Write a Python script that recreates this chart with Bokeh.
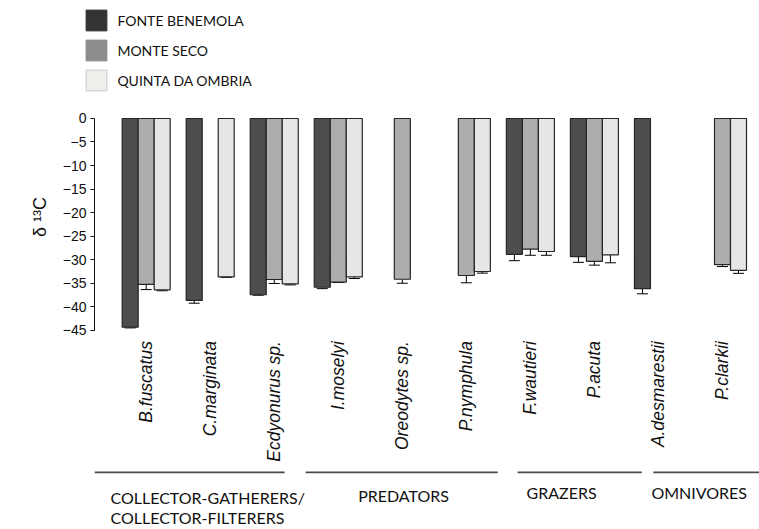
import math

from bokeh.core.properties import value
from bokeh.embed import file_html
from bokeh.layouts import column
from bokeh.models import (ColumnDataSource, FixedTicker, Legend, LegendItem,
                          LinearAxis, Range1d, TeeHead, Whisker)
from bokeh.plotting import figure
from bokeh.resources import INLINE
from bokeh.transform import dodge

# --- data -------------------------------------------------------------------
species = ["B.fuscatus", "C.marginata", "Ecdyonurus sp.", "I.moselyi", "Oreodytes sp.",
           "P.nymphula", "F.wautieri", "P.acuta", "A.desmarestii", "P.clarkii"]

sites = ["FONTE BENEMOLA", "MONTE SECO", "QUINTA DA OMBRIA"]

# mean d13C per species (None = taxon not sampled at that site)
fonte_mean = [-44.4, -38.7, -37.5, -35.9, None, None, -28.9, -29.4, -36.2, None]
fonte_err = [0.15, 0.6, 0.1, 0.3, None, None, 1.35, 1.2, 1.1, None]

monte_mean = [-35.3, None, -34.25, -34.8, -34.2, -33.4, -27.8, -30.4, None, -31.1]
monte_err = [1.1, None, 0.85, 0.1, 0.85, 1.55, 1.3, 0.8, None, 0.4]

quinta_mean = [-36.45, -33.7, -35.2, -33.7, None, -32.55, -28.3, -29.0, None, -32.3]
quinta_err = [0.2, 0.1, 0.2, 0.35, None, 0.35, 0.8, 1.7, None, 0.65]

y_ticks = [0, -5, -10, -15, -20, -25, -30, -35, -40, -45]

# functional feeding groups (one entry per text line)
group_lines = [["COLLECTOR-GATHERERS/", "COLLECTOR-FILTERERS"], ["PREDATORS"], ["GRAZERS"], ["OMNIVORES"]]

# --- styling / layout -------------------------------------------------------
bar_colors = ["#4d4d4d", "#adadad", "#e6e6e6"]
legend_colors = ["#333333", "#8c8c8c", "#efefe9"]
offsets = [-0.25, 0.0, 0.25]
BAR_W = 0.25

W = 759
KEY_H = 94               # strip holding the site key
MAIN_H = 245             # bar chart
FOOT_H = 190             # species names and feeding groups
FRAME_LEFT = 94
X_RANGE = Range1d(-0.807, 9.578)
SPLIT_Y = -47.02         # value where the chart hands over to the footer


def bare(fig):
    fig.outline_line_color = None
    fig.background_fill_color = None
    fig.border_fill_color = "white"
    fig.grid.visible = False
    return fig


# ---------------------------------------------------------------- site key
key = bare(figure(width=W, height=KEY_H, output_backend="svg", toolbar_location=None,
                  x_range=Range1d(0, 1), y_range=Range1d(0, 1),
                  x_axis_location=None, y_axis_location=None,
                  min_border_left=0, min_border_right=0,
                  min_border_top=0, min_border_bottom=0))
key.frame_align = False

items = []
for name, col in zip(sites, legend_colors):
    # swatch-only renderer: a single NaN point, never drawn in the strip
    r = key.vbar(x=[float("nan")], top=[float("nan")], width=1, fill_color=col,
                 line_color="#c8c8c8" if col == legend_colors[-1] else col)
    items.append(LegendItem(label=name, renderers=[r]))
legend = Legend(items=items, location=(83.4, 0.6),
                glyph_width=26, glyph_height=26, label_height=26, spacing=4,
                padding=0, margin=0, label_standoff=8,
                border_line_color=None, background_fill_alpha=0,
                label_text_font="Lato", label_text_font_size="14px",
                label_text_color="#111111")
key.add_layout(legend)

# ---------------------------------------------------------------- bar chart
p = bare(figure(width=W, height=MAIN_H, output_backend="svg", toolbar_location=None,
                x_range=X_RANGE, y_range=Range1d(SPLIT_Y, 5.106),
                x_axis_location=None, y_axis_location=None,
                min_border_left=FRAME_LEFT, min_border_right=0,
                min_border_top=0, min_border_bottom=0))

# y axis limited to the data band
yaxis = LinearAxis(ticker=FixedTicker(ticks=y_ticks), bounds=(-45, 0))
yaxis.major_label_overrides = {t: ("0" if t == 0 else "\u2212" + str(abs(t))) for t in y_ticks}
yaxis.major_tick_out = 4
yaxis.major_tick_in = 0
yaxis.minor_tick_out = 0
yaxis.minor_tick_in = 0
yaxis.major_label_standoff = 4
yaxis.major_label_text_font = "Liberation Sans"
yaxis.major_label_text_font_size = "14px"
yaxis.major_label_text_color = "#111111"
yaxis.axis_line_color = "#111111"
yaxis.major_tick_line_color = "#111111"
yaxis.axis_label = "\u03b4 \u00b9\u00b3C"
yaxis.axis_label_standoff = 10
yaxis.axis_label_text_font = "Liberation Sans"
yaxis.axis_label_text_font_size = "18px"
yaxis.axis_label_text_font_style = "normal"
yaxis.axis_label_text_color = "#111111"
p.add_layout(yaxis, "left")

# bars + one-sided error whiskers
series = [(fonte_mean, fonte_err), (monte_mean, monte_err), (quinta_mean, quinta_err)]
for (means, errs), color, off in zip(series, bar_colors, offsets):
    idx = [i for i, m in enumerate(means) if m is not None]
    src = ColumnDataSource(dict(
        x=idx,
        top=[means[i] for i in idx],
        low=[means[i] - errs[i] for i in idx],
    ))
    xpos = dodge("x", off, range=p.x_range)
    p.vbar(x=xpos, top="top", bottom=0, width=BAR_W, source=src,
           fill_color=color, line_color="#262626", line_width=1.2)
    p.add_layout(Whisker(base=xpos, upper="top", lower="low", source=src,
                         line_color="black", line_width=1,
                         upper_head=None,
                         lower_head=TeeHead(size=11, line_color="black", line_width=1)))

# ---------------------------------------------------------------- footer
foot = bare(figure(width=W, height=FOOT_H, output_backend="svg", toolbar_location=None,
                   x_range=X_RANGE, y_range=Range1d(-87.45, SPLIT_Y),
                   x_axis_location=None, y_axis_location=None,
                   min_border_left=FRAME_LEFT, min_border_right=0,
                   min_border_top=0, min_border_bottom=0))

# species names, vertical and italic
foot.text(x=list(range(len(species))), y=[-47.35] * len(species), text=species,
          angle=math.pi / 2, text_align="right", text_baseline="middle",
          text_font=value("Liberation Sans"), text_font_style="italic",
          text_font_size="17.5px", text_color="#111111")

# group rules and names
rule_x0 = [-0.807, 2.49, 5.80, 7.92]
rule_x1 = [2.162, 5.49, 7.74, 9.58]
foot.segment(x0=rule_x0, x1=rule_x1, y0=[-75.3] * 4, y1=[-75.3] * 4,
             line_color="#4a4a4a", line_width=1.8)

label_x = [-0.558, 3.31, 5.94, 7.89]
label_y = [-80.6, -80.2, -79.6, -79.6]
gx, gy, gt = [], [], []
for x0, y0, lines in zip(label_x, label_y, group_lines):
    for k, line in enumerate(lines):
        gx.append(x0)
        gy.append(y0 - 4.25 * k)
        gt.append(line)
foot.text(x=gx, y=gy, text=gt, text_align="left", text_baseline="middle",
          text_font=value("Lato"), text_font_size="16px", text_color="#111111")

layout = column(key, p, foot, spacing=0)
open("out.html", "w").write(file_html(layout, INLINE))
